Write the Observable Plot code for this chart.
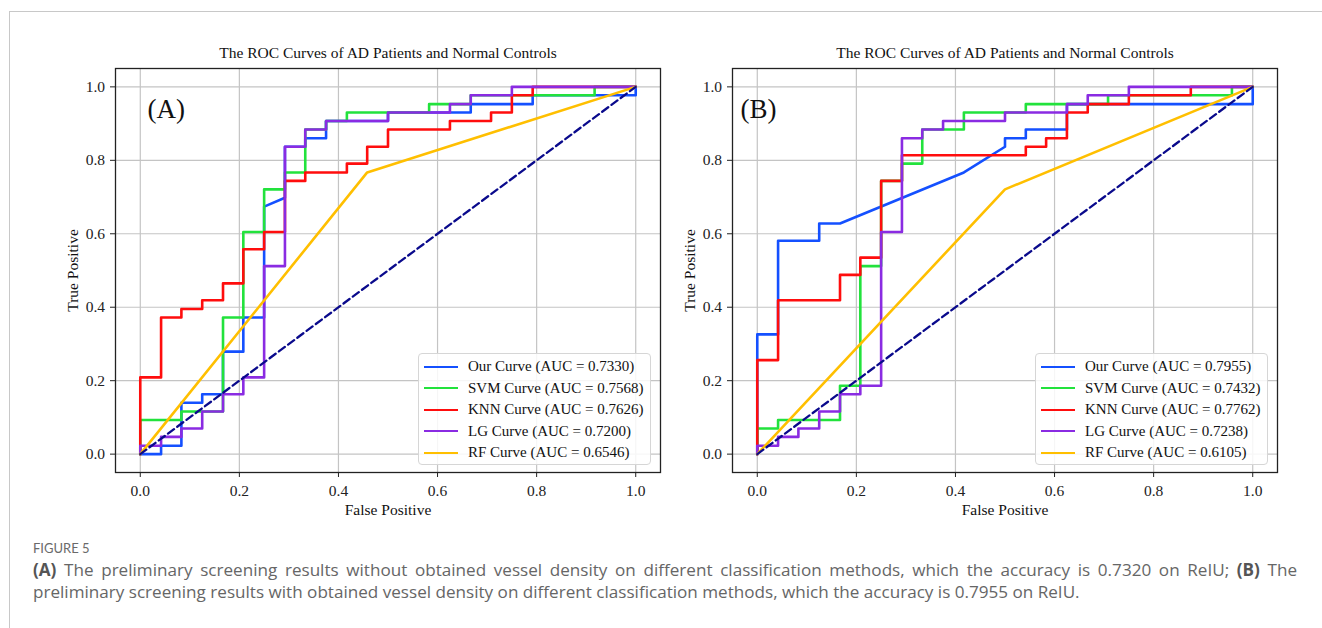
<!DOCTYPE html>
<html>
<head>
<meta charset="utf-8">
<script src="https://cdn.jsdelivr.net/npm/d3@7"></script>
<script src="https://cdn.jsdelivr.net/npm/@observablehq/plot@0.6"></script>
<style>
  html, body { margin: 0; padding: 0; background: #fff; }
  body { width: 1322px; height: 628px; overflow: hidden; position: relative; }
  #border { position: absolute; left: 9px; top: 11px; width: 1400px; height: 700px;
            border-left: 1px solid #c8c8c8; border-top: 1px solid #c8c8c8; }
  .panel { position: absolute; top: 0; }
  .legend { position: absolute; border: 1px solid #d6d6d6; border-radius: 4px;
            background: rgba(255,255,255,0.85); font-family: "Liberation Serif", "Times New Roman", serif;
            font-size: 15px; color: #111; box-sizing: border-box; }
  .legend .row { position: absolute; left: 0; height: 20px; display: flex; align-items: center; white-space: nowrap; }
  .legend .sw { width: 34px; height: 0; border-top: 2.6px solid; margin-left: 5px; margin-right: 10px; }
  .cap { position: absolute; left: 33px; font-family: "Open Sans", "Noto Sans", sans-serif; color: #666; white-space: nowrap; }
  .cap b { color: #555; font-weight: 700; }
  .just { width: 1264px; text-align: justify; text-align-last: justify; }
</style>
</head>
<body>
<div id="border"></div>
<div id="root"></div>
<div class="cap" style="top:540px;font-family:Lato,'Open Sans',sans-serif;font-size:13px;line-height:16px;color:#6a6a6a;">FIGURE 5</div>
<div class="cap just" style="top:559px;font-size:17.1px;line-height:22px;"><b>(A)</b> The preliminary screening results without obtained vessel density on different classification methods, which the accuracy is 0.7320 on ReIU; <b>(B)</b> The</div>
<div class="cap" style="top:581px;font-size:17.1px;line-height:22px;">preliminary screening results with obtained vessel density on different classification methods, which the accuracy is 0.7955 on ReIU.</div>
<script>
// ---------------- data ----------------
const chartTitle = "The ROC Curves of AD Patients and Normal Controls";
const xLabel = "False Positive";
const yLabel = "True Positive";
const tickValues = [0, 0.2, 0.4, 0.6, 0.8, 1.0];
const curveNames = ["Our Curve", "SVM Curve", "KNN Curve", "LG Curve", "RF Curve"];
const curveColors = ["#1450ff", "#22e23c", "#ff0d0d", "#8a2be2", "#ffbf00"];
const aucA = ["0.7330", "0.7568", "0.7626", "0.7200", "0.6546"];
const aucB = ["0.7955", "0.7432", "0.7762", "0.7238", "0.6105"];
const chanceLine = [[0, 0], [1, 1]];

// Panel A (without vessel density): [false positive, true positive]
const A_our = [[0,0],[0.042,0],[0.042,0.023],[0.083,0.023],[0.083,0.140],[0.125,0.140],[0.125,0.163],[0.167,0.163],[0.167,0.279],[0.208,0.279],[0.208,0.372],[0.25,0.372],[0.25,0.674],[0.292,0.698],[0.292,0.837],[0.333,0.837],[0.333,0.860],[0.375,0.860],[0.375,0.907],[0.5,0.907],[0.5,0.930],[0.667,0.930],[0.667,0.953],[0.792,0.953],[0.792,0.977],[1,0.977],[1,1]];
const A_svm = [[0,0],[0,0.093],[0.083,0.093],[0.083,0.116],[0.167,0.116],[0.167,0.372],[0.208,0.372],[0.208,0.605],[0.25,0.605],[0.25,0.721],[0.292,0.721],[0.292,0.767],[0.333,0.767],[0.333,0.884],[0.375,0.884],[0.375,0.907],[0.417,0.907],[0.417,0.930],[0.583,0.930],[0.583,0.953],[0.667,0.953],[0.667,0.977],[0.917,0.977],[0.917,1],[1,1]];
const A_knn = [[0,0],[0,0.209],[0.042,0.209],[0.042,0.372],[0.083,0.372],[0.083,0.395],[0.125,0.395],[0.125,0.419],[0.167,0.419],[0.167,0.465],[0.208,0.465],[0.208,0.558],[0.25,0.558],[0.25,0.605],[0.292,0.605],[0.292,0.744],[0.333,0.744],[0.333,0.767],[0.417,0.767],[0.417,0.791],[0.458,0.791],[0.458,0.837],[0.5,0.837],[0.5,0.884],[0.625,0.884],[0.625,0.907],[0.708,0.907],[0.708,0.930],[0.75,0.930],[0.75,0.977],[0.792,0.977],[0.792,1],[1,1]];
const A_lg = [[0,0],[0,0.023],[0.042,0.023],[0.042,0.047],[0.083,0.047],[0.083,0.070],[0.125,0.070],[0.125,0.116],[0.167,0.116],[0.167,0.163],[0.208,0.163],[0.208,0.209],[0.25,0.209],[0.25,0.512],[0.292,0.512],[0.292,0.837],[0.333,0.837],[0.333,0.884],[0.375,0.884],[0.375,0.907],[0.5,0.907],[0.5,0.930],[0.625,0.930],[0.625,0.953],[0.667,0.953],[0.667,0.977],[0.75,0.977],[0.75,1],[1,1]];
const A_rf = [[0,0],[0.458,0.767],[1,1]];

// Panel B (with vessel density)
const B_our = [[0,0],[0,0.326],[0.042,0.326],[0.042,0.581],[0.125,0.581],[0.125,0.628],[0.167,0.628],[0.417,0.767],[0.5,0.837],[0.5,0.860],[0.542,0.860],[0.542,0.884],[0.625,0.884],[0.625,0.953],[1,0.953],[1,1]];
const B_svm = [[0,0],[0,0.070],[0.042,0.070],[0.042,0.093],[0.167,0.093],[0.167,0.186],[0.208,0.186],[0.208,0.512],[0.25,0.512],[0.25,0.744],[0.292,0.744],[0.292,0.791],[0.333,0.791],[0.333,0.884],[0.417,0.884],[0.417,0.930],[0.542,0.930],[0.542,0.953],[0.708,0.953],[0.708,0.977],[0.958,0.977],[0.958,1],[1,1]];
const B_knn = [[0,0],[0,0.256],[0.042,0.256],[0.042,0.419],[0.167,0.419],[0.167,0.488],[0.208,0.488],[0.208,0.535],[0.25,0.535],[0.25,0.744],[0.292,0.744],[0.292,0.814],[0.542,0.814],[0.542,0.837],[0.583,0.837],[0.583,0.860],[0.625,0.860],[0.625,0.930],[0.667,0.930],[0.667,0.953],[0.75,0.953],[0.75,0.977],[0.875,0.977],[0.875,1],[1,1]];
const B_lg = [[0,0],[0,0.023],[0.042,0.023],[0.042,0.047],[0.083,0.047],[0.083,0.070],[0.125,0.070],[0.125,0.116],[0.167,0.116],[0.167,0.163],[0.208,0.163],[0.208,0.186],[0.25,0.186],[0.25,0.605],[0.292,0.605],[0.292,0.860],[0.333,0.860],[0.333,0.884],[0.375,0.884],[0.375,0.907],[0.5,0.907],[0.5,0.930],[0.625,0.930],[0.625,0.953],[0.667,0.953],[0.667,0.977],[0.75,0.977],[0.75,1],[1,1]];
const B_rf = [[0,0],[0.5,0.721],[1,1]];

// ---------------- drawing ----------------
const serif = "'Liberation Serif', 'Times New Roman', Times, serif";
const W = 680, H = 520, ML = 115, MR = 20, MT = 68, MB = 48;

function makePanel(curves, panelLabel, labelDx) {
  return Plot.plot({
    width: W, height: H,
    marginLeft: ML, marginRight: MR, marginTop: MT, marginBottom: MB,
    x: {domain: [-0.05, 1.05]},
    y: {domain: [-0.05, 1.05]},
    style: {fontFamily: serif, fontSize: "15px", color: "#222", background: "transparent", overflow: "visible", maxWidth: "none"},
    marks: [
      Plot.gridX(tickValues, {stroke: "#c4c4c4", strokeOpacity: 1, strokeWidth: 1.2}),
      Plot.gridY(tickValues, {stroke: "#c4c4c4", strokeOpacity: 1, strokeWidth: 1.2}),
      ...curves.map((c, i) => Plot.line(c, {x: d => d[0], y: d => d[1], stroke: curveColors[i], strokeWidth: 2.6, curve: "linear"})),
      Plot.line(chanceLine, {x: d => d[0], y: d => d[1], stroke: "#0a0a8c", strokeWidth: 2.3, strokeDasharray: "7.5,4"}),
      Plot.frame({stroke: "#222", strokeWidth: 1.3}),
      Plot.axisX(tickValues, {tickFormat: d3.format(".1f"), tickSize: 5, tickPadding: 7, label: null, stroke: "#222", fontSize: 15.5, fill: "#222"}),
      Plot.axisY(tickValues, {tickFormat: d3.format(".1f"), tickSize: 5, tickPadding: 5.5, label: null, stroke: "#222", fontSize: 15.5, fill: "#222"}),
      Plot.text([chartTitle], {text: d => d, frameAnchor: "top", lineAnchor: "middle", dy: -15, fontSize: 15.5, fill: "#111"}),
      Plot.text([xLabel], {text: d => d, frameAnchor: "bottom", lineAnchor: "middle", dy: 38, fontSize: 15.5, fill: "#111"}),
      Plot.text([yLabel], {text: d => d, frameAnchor: "left", textAnchor: "middle", lineAnchor: "middle", dx: -42, rotate: -90, fontSize: 15.5, fill: "#111"}),
      Plot.text([panelLabel], {text: d => d, frameAnchor: "top-left", lineAnchor: "middle", dx: labelDx, dy: 41, fontSize: 27, textAnchor: "start", fill: "#111"})
    ]
  });
}

function addPanel(left, curves, aucs, panelLabel, labelDx) {
  const svg = makePanel(curves, panelLabel, labelDx);
  svg.classList.add("panel");
  svg.style.left = left + "px";
  svg.style.top = "0px";
  svg.style.position = "absolute";
  document.getElementById("root").appendChild(svg);

  const lg = document.createElement("div");
  lg.className = "legend";
  lg.style.left = (left + 418) + "px";
  lg.style.top = "353px";
  lg.style.width = "233px";
  lg.style.height = "112px";
  curveNames.forEach((n, i) => {
    const row = document.createElement("div");
    row.className = "row";
    row.style.top = (2.5 + i * 21.5) + "px";
    const sw = document.createElement("div");
    sw.className = "sw";
    sw.style.borderTopColor = curveColors[i];
    const tx = document.createElement("span");
    tx.textContent = `${n} (AUC = ${aucs[i]})`;
    row.appendChild(sw);
    row.appendChild(tx);
    lg.appendChild(row);
  });
  document.getElementById("root").appendChild(lg);
}

addPanel(0, [A_our, A_svm, A_knn, A_lg, A_rf], aucA, "(A)", 32);
addPanel(617, [B_our, B_svm, B_knn, B_lg, B_rf], aucB, "(B)", 8);
</script>
</body>
</html>
